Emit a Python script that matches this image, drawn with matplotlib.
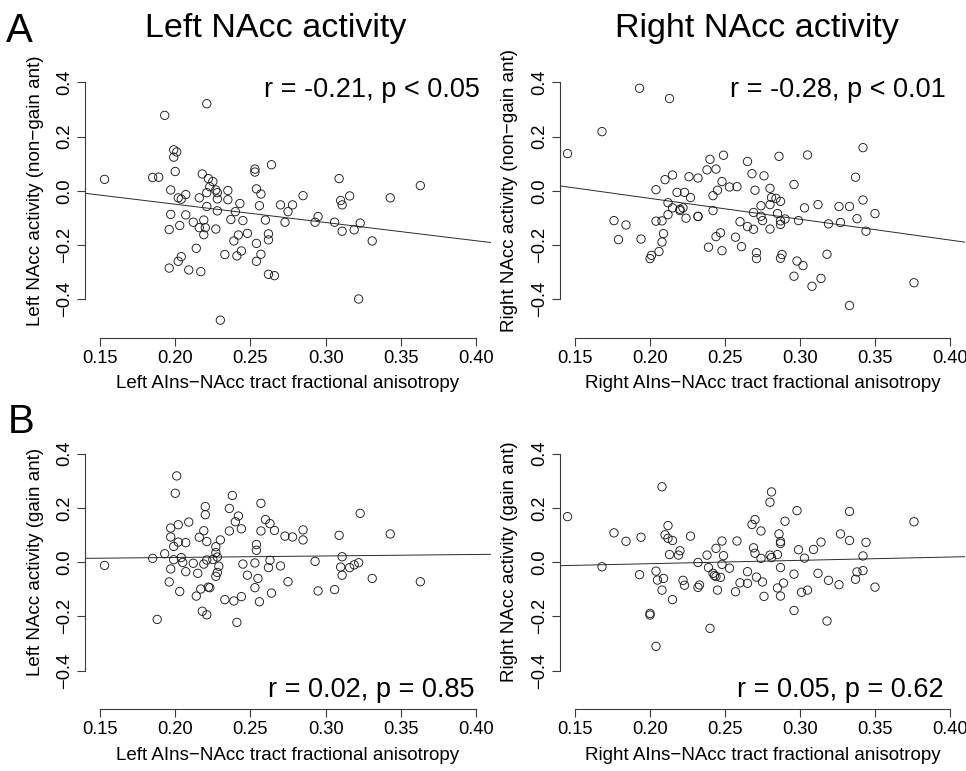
import numpy as np
import matplotlib
matplotlib.use("Agg")
import matplotlib.pyplot as plt
from matplotlib.ticker import FixedLocator, FixedFormatter

plt.rcParams['font.family'] = ['Liberation Sans', 'DejaVu Sans']

# ---------------------------------------------------------------------------
# Data
# ---------------------------------------------------------------------------

# A, left: left AIns-NAcc FA vs left NAcc activity (non-gain ant)
left_fa_top = [
    0.153, 0.185, 0.189, 0.193, 0.221, 0.199, 0.201, 0.199, 0.200, 0.197,
    0.202, 0.204, 0.207, 0.197, 0.207, 0.196, 0.203, 0.212, 0.216, 0.218,
    0.222, 0.225, 0.223, 0.221, 0.227, 0.228, 0.228, 0.221, 0.228, 0.219,
    0.216, 0.220, 0.219, 0.227, 0.214, 0.204, 0.202, 0.196, 0.209, 0.217,
    0.235, 0.235, 0.243, 0.240, 0.237, 0.245, 0.242, 0.248, 0.239, 0.233,
    0.241, 0.244, 0.230, 0.253, 0.253, 0.264, 0.254, 0.257, 0.256, 0.260,
    0.262, 0.262, 0.254, 0.257, 0.254, 0.262, 0.266, 0.270, 0.278, 0.275,
    0.273, 0.285, 0.295, 0.293, 0.306, 0.309, 0.310, 0.311, 0.316, 0.311,
    0.319, 0.323, 0.331, 0.322, 0.343, 0.363]
left_nongain = [
    0.042, 0.049, 0.050, 0.278, 0.321, 0.151, 0.143, 0.124, 0.071, 0.003,
    -0.026, -0.031, -0.014, -0.087, -0.089, -0.143, -0.128, -0.116, -0.026, 0.062,
    0.045, 0.034, 0.015, -0.007, 0.003, -0.007, -0.030, -0.058, -0.074, -0.108,
    -0.136, -0.136, -0.162, -0.141, -0.212, -0.243, -0.260, -0.285, -0.292, -0.298,
    0.001, -0.033, -0.047, -0.077, -0.106, -0.110, -0.163, -0.157, -0.185, -0.235,
    -0.240, -0.222, -0.477, 0.080, 0.069, 0.096, 0.007, -0.012, -0.055, -0.108,
    -0.159, -0.181, -0.194, -0.234, -0.260, -0.308, -0.313, -0.052, -0.052, -0.077,
    -0.116, -0.018, -0.095, -0.116, -0.116, 0.045, -0.036, -0.052, -0.019, -0.149,
    -0.144, -0.119, -0.185, -0.399, -0.026, 0.019]

# A, right: right AIns-NAcc FA vs right NAcc activity (non-gain ant)
right_fa_top = [
    0.145, 0.168, 0.193, 0.213, 0.176, 0.179, 0.184, 0.194, 0.200, 0.201,
    0.206, 0.208, 0.209, 0.204, 0.204, 0.208, 0.210, 0.215, 0.212, 0.212,
    0.215, 0.218, 0.220, 0.220, 0.222, 0.223, 0.224, 0.227, 0.226, 0.232,
    0.232, 0.232, 0.238, 0.240, 0.244, 0.249, 0.248, 0.245, 0.242, 0.242,
    0.244, 0.247, 0.239, 0.248, 0.253, 0.258, 0.257, 0.261, 0.260, 0.265,
    0.265, 0.268, 0.270, 0.276, 0.269, 0.269, 0.274, 0.274, 0.275, 0.271,
    0.271, 0.280, 0.281, 0.280, 0.280, 0.284, 0.285, 0.287, 0.286, 0.287,
    0.287, 0.290, 0.287, 0.288, 0.296, 0.299, 0.303, 0.305, 0.298, 0.302,
    0.296, 0.308, 0.314, 0.312, 0.318, 0.319, 0.326, 0.327, 0.333, 0.337,
    0.338, 0.342, 0.342, 0.344, 0.350, 0.333, 0.376]
right_nongain = [
    0.137, 0.218, 0.378, 0.340, -0.110, -0.180, -0.126, -0.178, -0.250, -0.238,
    -0.224, -0.189, -0.158, 0.004, -0.112, -0.111, 0.041, 0.058, -0.044, -0.088,
    -0.063, -0.006, -0.068, -0.073, -0.063, -0.006, -0.101, -0.025, 0.052, 0.047,
    -0.094, -0.095, 0.077, 0.116, 0.080, 0.131, 0.034, 0.002, -0.018, -0.073,
    -0.169, -0.155, -0.208, -0.221, 0.014, 0.015, -0.171, -0.206, -0.114, -0.132,
    0.108, 0.063, 0.002, 0.055, -0.080, -0.142, -0.055, -0.094, -0.110, -0.228,
    -0.250, 0.009, -0.025, -0.051, -0.141, -0.028, -0.084, -0.039, 0.127, -0.111,
    -0.124, -0.104, -0.249, -0.235, 0.023, -0.110, -0.063, 0.132, -0.259, -0.276,
    -0.315, -0.352, -0.323, -0.051, -0.234, -0.122, -0.058, -0.117, -0.058, 0.050,
    -0.103, -0.034, 0.159, -0.149, -0.084, -0.423, -0.339]

# B, left: left AIns-NAcc FA vs left NAcc activity (gain ant)
left_fa_bot = [
    0.153, 0.185, 0.193, 0.188, 0.201, 0.200, 0.202, 0.209, 0.197, 0.197,
    0.199, 0.202, 0.207, 0.199, 0.204, 0.205, 0.197, 0.207, 0.196, 0.203,
    0.212, 0.215, 0.214, 0.217, 0.218, 0.221, 0.220, 0.220, 0.219, 0.216,
    0.221, 0.219, 0.221, 0.225, 0.227, 0.227, 0.228, 0.229, 0.228, 0.227,
    0.222, 0.223, 0.230, 0.233, 0.236, 0.236, 0.238, 0.242, 0.240, 0.244,
    0.239, 0.244, 0.241, 0.245, 0.248, 0.253, 0.254, 0.254, 0.255, 0.253,
    0.256, 0.257, 0.257, 0.260, 0.263, 0.266, 0.263, 0.262, 0.264, 0.270,
    0.273, 0.278, 0.275, 0.285, 0.285, 0.293, 0.295, 0.306, 0.309, 0.311,
    0.310, 0.311, 0.316, 0.319, 0.322, 0.323, 0.331, 0.343, 0.363]
left_gain = [
    -0.012, 0.014, 0.031, -0.211, 0.318, 0.254, 0.138, 0.148, 0.126, 0.093,
    0.058, 0.074, 0.072, 0.009, 0.017, -0.001, -0.025, -0.035, -0.073, -0.108,
    -0.004, -0.041, -0.125, -0.099, -0.181, -0.194, 0.205, 0.175, 0.116, 0.092,
    0.076, -0.007, 0.008, 0.010, 0.057, 0.035, 0.019, -0.015, -0.038, -0.052,
    -0.092, -0.094, 0.082, -0.138, 0.115, 0.198, 0.246, 0.170, 0.149, 0.123,
    -0.143, -0.127, -0.222, -0.007, -0.048, -0.003, 0.065, 0.044, -0.060, -0.094,
    -0.146, 0.217, 0.115, 0.157, 0.142, 0.117, 0.007, -0.020, -0.114, -0.014,
    0.096, 0.093, -0.072, 0.119, 0.082, 0.003, -0.106, -0.101, 0.099, 0.020,
    -0.018, -0.048, -0.020, -0.010, -0.002, 0.180, -0.060, 0.104, -0.072]

# B, right: right AIns-NAcc FA vs right NAcc activity (gain ant)
right_fa_bot = [
    0.145, 0.168, 0.176, 0.184, 0.194, 0.193, 0.200, 0.200, 0.204, 0.208,
    0.212, 0.210, 0.212, 0.215, 0.213, 0.204, 0.205, 0.209, 0.208, 0.215,
    0.220, 0.219, 0.222, 0.223, 0.227, 0.232, 0.232, 0.233, 0.238, 0.239,
    0.244, 0.242, 0.243, 0.244, 0.247, 0.248, 0.249, 0.248, 0.253, 0.245,
    0.240, 0.258, 0.257, 0.260, 0.265, 0.265, 0.268, 0.270, 0.274, 0.269,
    0.270, 0.274, 0.271, 0.275, 0.276, 0.281, 0.280, 0.280, 0.281, 0.285,
    0.286, 0.287, 0.287, 0.287, 0.285, 0.289, 0.287, 0.290, 0.298, 0.299,
    0.296, 0.303, 0.301, 0.305, 0.296, 0.309, 0.314, 0.312, 0.319, 0.318,
    0.327, 0.326, 0.333, 0.333, 0.338, 0.337, 0.342, 0.342, 0.344, 0.350, 0.376]
right_gain = [
    0.168, -0.017, 0.108, 0.077, 0.092, -0.046, -0.189, -0.195, -0.310, 0.278,
    0.135, 0.101, 0.088, 0.080, 0.028, -0.033, -0.066, -0.060, -0.103, -0.138,
    0.042, 0.026, -0.067, -0.085, 0.096, -0.001, -0.093, -0.084, 0.026, -0.020,
    0.051, -0.041, -0.049, -0.053, -0.056, 0.078, 0.024, -0.008, -0.022, -0.103,
    -0.244, 0.078, -0.109, -0.076, -0.078, -0.035, 0.139, 0.157, 0.115, 0.053,
    0.033, 0.014, -0.055, -0.073, -0.126, 0.259, 0.221, 0.026, 0.017, 0.028,
    0.104, 0.076, 0.069, -0.020, -0.095, -0.077, -0.125, 0.151, 0.190, 0.046,
    -0.044, 0.015, -0.111, -0.103, -0.178, 0.047, 0.074, -0.041, -0.067, -0.217,
    0.104, -0.083, 0.187, 0.080, -0.036, -0.063, 0.023, -0.031, 0.073, -0.092, 0.149]

# fitted lines (intercept, slope)
fit_left_top = (0.085, -0.673)
fit_right_top = (0.1255, -0.768)
fit_left_bot = (0.0064, 0.055)
fit_right_bot = (-0.0301, 0.1227)

stat_left_top = "r = -0.21, p < 0.05"
stat_right_top = "r = -0.28, p < 0.01"
stat_left_bot = "r = 0.02, p = 0.85"
stat_right_bot = "r = 0.05, p = 0.62"

x_ticks = [0.15, 0.20, 0.25, 0.30, 0.35, 0.40]
x_ticklabels = ["0.15", "0.20", "0.25", "0.30", "0.35", "0.40"]
y_ticks = [-0.4, -0.2, 0.0, 0.2, 0.4]
y_ticklabels = ["\u22120.4", "\u22120.2", "0.0", "0.2", "0.4"]

# ---------------------------------------------------------------------------
# Layout (pixels)
# ---------------------------------------------------------------------------

W, H = 966, 771
XLIM = (0.14, 0.41)
YLIM = (-0.542, 0.436)
AX_COL = "#3a3a3a"


def px_rect(left, top, right, bottom):
    return [left / W, 1 - bottom / H, (right - left) / W, (bottom - top) / H]


def draw_panel(fig, rect, x, y, fit, xlabel, ylabel):
    ax = fig.add_axes(rect)
    ax.scatter(x, y, s=36, facecolors="none", edgecolors="#1a1a1a",
               linewidths=0.65, clip_on=False, zorder=3)
    ax.axline((0, fit[0]), slope=fit[1], color="#2a2a2a", lw=0.7, zorder=2)

    ax.set_xlim(*XLIM)
    ax.set_ylim(*YLIM)
    # R-style open axes: spines only span the tick range
    for side in ("top", "right"):
        ax.spines[side].set_visible(False)
    ax.spines["left"].set_bounds(y_ticks[0], y_ticks[-1])
    ax.spines["bottom"].set_bounds(x_ticks[0], x_ticks[-1])
    for side in ("left", "bottom"):
        ax.spines[side].set_color(AX_COL)
        ax.spines[side].set_linewidth(0.8)

    ax.xaxis.set_major_locator(FixedLocator(x_ticks))
    ax.xaxis.set_major_formatter(FixedFormatter(x_ticklabels))
    ax.yaxis.set_major_locator(FixedLocator(y_ticks))
    ax.yaxis.set_major_formatter(FixedFormatter(y_ticklabels))
    ax.tick_params(length=5.5, width=0.8, color=AX_COL, labelsize=13.2,
                   pad=3)
    ax.tick_params(axis="y", labelrotation=90)
    for lbl in ax.get_yticklabels():
        lbl.set_va("center")

    # axis labels: x centred on the axis, y centred on zero
    height_px = rect[3] * H
    width_px = rect[2] * W
    ax.set_xlabel(xlabel, fontsize=13.5)
    ax.xaxis.set_label_coords(0.5, -46 / height_px)
    ax.set_ylabel(ylabel, fontsize=13.5)
    y0 = (0 - YLIM[0]) / (YLIM[1] - YLIM[0])
    ax.yaxis.set_label_coords(-50 / width_px, y0)
    ax.xaxis.label.set_va("center")
    ax.yaxis.label.set_va("center")
    return ax


fig = plt.figure(figsize=(W / 100, H / 100), dpi=100)

draw_panel(fig, px_rect(85, 72.5, 491, 337.8), left_fa_top, left_nongain,
           fit_left_top, "Left AIns\u2212NAcc tract fractional anisotropy",
           "Left NAcc activity (non\u2212gain ant)")
draw_panel(fig, px_rect(560, 72.5, 965, 337.8), right_fa_top, right_nongain,
           fit_right_top, "Right AIns\u2212NAcc tract fractional anisotropy",
           "Right NAcc activity (non\u2212gain ant)")
draw_panel(fig, px_rect(85, 443.9, 491, 709.2), left_fa_bot, left_gain,
           fit_left_bot, "Left AIns\u2212NAcc tract fractional anisotropy",
           "Left NAcc activity (gain ant)")
draw_panel(fig, px_rect(560, 443.9, 965, 709.2), right_fa_bot, right_gain,
           fit_right_bot, "Right AIns\u2212NAcc tract fractional anisotropy",
           "Right NAcc activity (gain ant)")

# statistics text
for txt, (px, py) in [(stat_left_top, (480, 97)), (stat_right_top, (946, 97)),
                      (stat_left_bot, (475, 697)), (stat_right_bot, (944, 697))]:
    fig.text(px / W, 1 - py / H, txt, ha="right", va="baseline", fontsize=19.5)

# column titles and panel letters
fig.text(276 / W, 1 - 37 / H, "Left NAcc activity", ha="center",
         va="baseline", fontsize=24.5)
fig.text(757 / W, 1 - 37 / H, "Right NAcc activity", ha="center",
         va="baseline", fontsize=24.5)
fig.text(6 / W, 1 - 42 / H, "A", ha="left", va="baseline", fontsize=29)
fig.text(8 / W, 1 - 433 / H, "B", ha="left", va="baseline", fontsize=29)

fig.savefig("out.png", dpi=100, facecolor="white")
